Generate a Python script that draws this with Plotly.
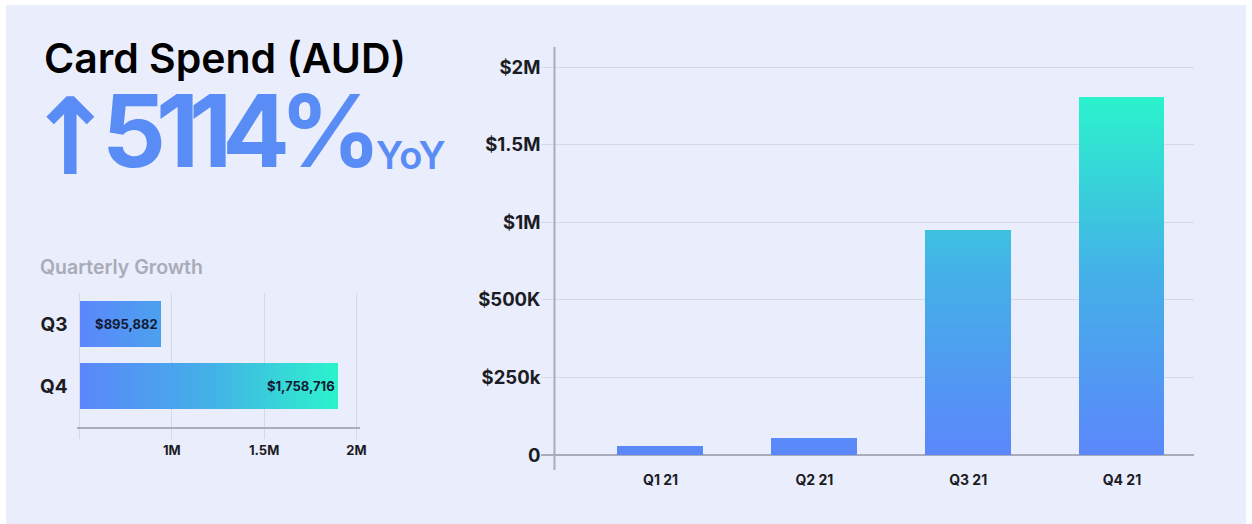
import numpy as np
import plotly.graph_objects as go
from plotly.colors import sample_colorscale

# main chart - card spend per quarter
quarters = ["Q1 21", "Q2 21", "Q3 21", "Q4 21"]
spend = [29000, 56000, 948000, 1810000]
y_tick_values = [0, 250000, 500000, 1000000, 1500000, 2000000]
y_tick_labels = ["0", "$250k", "$500K", "$1M", "$1.5M", "$2M"]

# small chart - quarterly growth
growth_quarters = ["Q3", "Q4"]
growth_bar = [937000, 1897000]
growth_text = ["$895,882", "$1,758,716"]
growth_ticks = [500000, 1000000, 1500000, 2000000]
growth_tick_labels = ["", "1M", "1.5M", "2M"]

FONT = "Inter"
BG = "#e9edfc"
GRID = "#d5d8e6"
AXIS = "#a9acba"
BLUE = "#5a8cf6"
gradient = [[0, "#5b87fb"], [0.5, "#44b0e8"], [1, "#2bf3cc"]]

W, H = 1252, 524

fig = go.Figure()

# right chart: ticks are evenly spaced although the steps are not,
# so values are placed on the tick index scale.
# bars are stacked in thin slices to get the vertical gradient
pos = np.interp(spend, y_tick_values, np.arange(len(y_tick_values)))
top = pos.max()
step = 0.04
for lo in np.arange(0, top, step):
    lengths = np.clip(pos - lo, 0, step)
    col = sample_colorscale(gradient, [min((lo + step / 2) / top, 1)])[0]
    fig.add_trace(go.Bar(
        x=quarters, y=lengths, base=lo, width=0.557,
        marker=dict(color=col, line_width=0),
        xaxis="x2", yaxis="y2", hoverinfo="skip", showlegend=False
    ))

# left chart: horizontal bars with gradient along x
gmin = growth_ticks[0]
gmax = max(growth_bar)
gstep = 15000
for lo in np.arange(gmin, gmax, gstep):
    lengths = np.clip(np.array(growth_bar) - lo, 0, gstep)
    col = sample_colorscale(gradient, [min((lo + gstep / 2 - gmin) / (gmax - gmin), 1)])[0]
    fig.add_trace(go.Bar(
        x=lengths, y=growth_quarters, base=lo, orientation="h", width=0.74,
        marker=dict(color=col, line_width=0),
        xaxis="x", yaxis="y", hoverinfo="skip", showlegend=False
    ))

# value labels sit on a transparent full-length bar
fig.add_trace(go.Bar(
    x=growth_bar, y=growth_quarters, orientation="h", width=0.74,
    marker=dict(color="rgba(0,0,0,0)", line_width=0),
    text=growth_text, textposition="inside", insidetextanchor="end",
    textangle=0,
    textfont=dict(family=FONT, size=13, color="#141a33", weight=700),
    xaxis="x", yaxis="y", hoverinfo="skip", showlegend=False
))

px_per_m = 185.4  # left chart: pixels per million

fig.update_layout(
    width=W, height=H,
    margin=dict(l=0, r=0, t=0, b=0),
    paper_bgcolor="#ffffff",
    plot_bgcolor="rgba(0,0,0,0)",
    barmode="overlay",
    bargap=0,
    font=dict(family=FONT, color="#1c1c24"),
    xaxis=dict(
        domain=[77 / W, 362 / W],
        range=[gmin - 3e6 / px_per_m, gmin + 282e6 / px_per_m],
        tickvals=growth_ticks, ticktext=growth_tick_labels,
        showgrid=True, gridcolor=GRID, gridwidth=1,
        ticks="outside", ticklen=10, tickcolor=GRID,
        showline=True, linecolor=AXIS, linewidth=2,
        zeroline=False, anchor="y",
        tickfont=dict(family=FONT, size=13, weight=700, color="#1c1c24"),
    ),
    yaxis=dict(
        domain=[1 - 427 / H, 1 - 293 / H], type="category",
        range=[1.66, -0.5], showgrid=False, zeroline=False,
        ticks="", ticklabelstandoff=8, anchor="x",
        tickfont=dict(family=FONT, size=19, weight=700, color="#1c1c24"),
    ),
    xaxis2=dict(
        domain=[544 / W, 1200 / W], type="category",
        range=[-0.775, 3.47], showgrid=False, zeroline=False,
        showline=False, ticks="", anchor="y2",
        tickfont=dict(family=FONT, size=14, weight=700, color="#1c1c24"),
    ),
    yaxis2=dict(
        domain=[1 - 470 / H, 1 - 47 / H], range=[-0.193, 5.258],
        tickvals=list(range(len(y_tick_values))), ticktext=y_tick_labels,
        showgrid=True, gridcolor=GRID, gridwidth=1,
        zeroline=True, zerolinecolor=AXIS, zerolinewidth=2,
        ticks="", anchor="x2",
        tickfont=dict(family=FONT, size=18.5, weight=700, color="#1c1c24"),
    ),
)

# panel background and the vertical axis line of the main chart
fig.add_shape(type="rect", xref="paper", yref="paper",
              x0=6 / W, x1=1, y0=0, y1=1 - 5 / H,
              fillcolor=BG, line_width=0, layer="below")
fig.add_shape(type="line", xref="x2", yref="y2 domain",
              x0=-0.69, x1=-0.69, y0=0, y1=1,
              line=dict(color=AXIS, width=2))

fig.add_annotation(text="Card Spend (AUD)", xref="paper", yref="paper",
                   x=42 / W, y=1 - 58 / H, xanchor="left", yanchor="middle",
                   showarrow=False,
                   font=dict(family=FONT, size=41, weight=600, color="#000000"))
fig.add_annotation(text="\u2191", xref="paper", yref="paper",
                   x=24 / W, y=1 - 137 / H, xanchor="left", yanchor="middle",
                   showarrow=False,
                   font=dict(family="DejaVu Sans", size=106, weight=700, color=BLUE))
fig.add_annotation(text='<span style="letter-spacing:-10px">5114%</span>',
                   xref="paper", yref="paper",
                   x=100 / W, y=1 - 130 / H, xanchor="left", yanchor="middle",
                   showarrow=False,
                   font=dict(family=FONT, size=100, weight=700, color=BLUE))
fig.add_annotation(text="YoY", xref="paper", yref="paper",
                   x=376 / W, y=1 - 155 / H, xanchor="left", yanchor="middle",
                   showarrow=False,
                   font=dict(family=FONT, size=38, weight=600, color=BLUE))
fig.add_annotation(text="Quarterly Growth", xref="paper", yref="paper",
                   x=38 / W, y=1 - 267 / H, xanchor="left", yanchor="middle",
                   showarrow=False,
                   font=dict(family=FONT, size=19.5, weight=600, color="#a9abb6"))

fig.write_html("out.html", config={"displayModeBar": False},
               post_script="document.body.style.margin='0';")
